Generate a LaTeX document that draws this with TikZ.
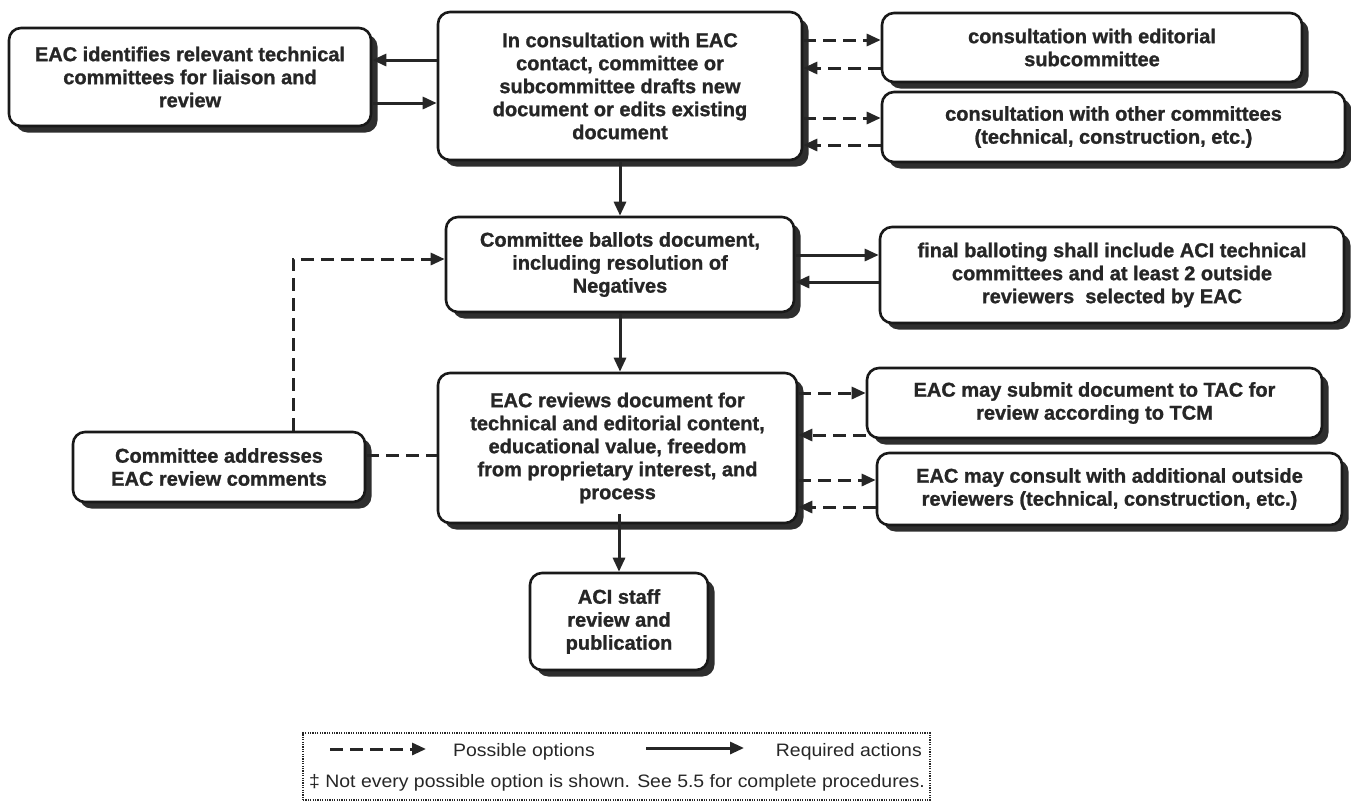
\documentclass[tikz,border=0pt]{standalone}
\usepackage{fontspec}
\setmainfont{Liberation Sans}[BoldFeatures={FakeBold=1.2}]
\newfontfamily\legfont{Liberation Sans}[FakeStretch=1.08]
\usetikzlibrary{arrows.meta,shadows}
\begin{document}
\begin{tikzpicture}[x=1pt,y=-1pt,
  box/.style={draw=black!90, line width=2.6pt, rounded corners=12pt, fill=white, align=center, inner sep=0pt,
    font=\fontsize{20}{23}\selectfont\bfseries, text=black!85,
    drop shadow={shadow xshift=6.5pt, shadow yshift=-6.5pt, fill=black!82, opacity=1}},
  req/.style={line width=3pt, draw=black!85, -{Triangle[length=14pt,width=12pt]}},
  opt/.style={line width=3pt, draw=black!85, dash pattern=on 13pt off 7pt, -{Triangle[length=14pt,width=12pt]}},
  optline/.style={line width=3pt, draw=black!85, dash pattern=on 13pt off 7pt},
  legbox/.style={draw=black!85, line width=2pt, dash pattern=on 1.2pt off 1.2pt, inner sep=0pt},
  legtext/.style={font=\legfont\fontsize{18}{21}\selectfont, text=black!85, inner sep=0pt},
]
\useasboundingbox (0,0) rectangle (1351,804);

% boxes
\node[box, minimum width=362pt, minimum height=98pt] (lt) at (190,77)
  {EAC identifies relevant technical\\committees for liaison and\\review};
\node[box, minimum width=364pt, minimum height=148pt] (draft) at (620,86)
  {In consultation with EAC\\contact, committee or\\subcommittee drafts new\\document or edits existing\\document};
\node[box, minimum width=420pt, minimum height=69pt] (edit) at (1092,47.5)
  {consultation with editorial\\subcommittee};
\node[box, minimum width=463pt, minimum height=70pt] (other) at (1113.5,127)
  {consultation with other committees\\(technical, construction, etc.)};
\node[box, minimum width=348pt, minimum height=95pt] (ballot) at (620,264.5)
  {Committee ballots document,\\including resolution of\\Negatives};
\node[box, minimum width=464pt, minimum height=96pt] (final) at (1112,275)
  {final balloting shall include ACI technical\\committees and at least 2 outside\\reviewers\ \ selected by EAC};
\node[box, minimum width=359pt, minimum height=150pt] (rev) at (617.5,448)
  {EAC reviews document for\\technical and editorial content,\\educational value, freedom\\from proprietary interest, and\\process};
\node[box, minimum width=455pt, minimum height=70pt] (tac) at (1094.5,403)
  {EAC may submit document to TAC for\\review according to TCM};
\node[box, minimum width=465pt, minimum height=72pt] (consult) at (1109.5,489)
  {EAC may consult with additional outside\\reviewers (technical, construction, etc.)};
\node[box, minimum width=292pt, minimum height=70pt] (addr) at (219,467)
  {Committee addresses\\EAC review comments};
\node[box, minimum width=178pt, minimum height=97pt] (aci) at (619,621.5)
  {ACI staff\\review and\\publication};

% connectors
\draw[req] (draft.west |- 0,60) -- (lt.east |- 0,60);
\draw[req] (lt.east |- 0,103) -- (draft.west |- 0,103);
\draw[opt] (draft.east |- 0,40) -- (edit.west |- 0,40);
\draw[opt] (edit.west |- 0,68) -- (draft.east |- 0,68);
\draw[opt] (draft.east |- 0,118) -- (other.west |- 0,118);
\draw[opt] (other.west |- 0,145) -- (draft.east |- 0,145);
\draw[req] (draft.south) -- (draft.south |- ballot.north);
\draw[req] (ballot.east |- 0,255) -- (final.west |- 0,255);
\draw[req] (final.west |- 0,282) -- (ballot.east |- 0,282);
\draw[req] (ballot.south) -- (ballot.south |- rev.north);
\draw[opt] (rev.east |- 0,393) -- (tac.west |- 0,393);
\draw[opt] (tac.west |- 0,435) -- (rev.east |- 0,435);
\draw[opt] (rev.east |- 0,480) -- (consult.west |- 0,480);
\draw[opt] (consult.west |- 0,507) -- (rev.east |- 0,507);
\draw[optline] (addr.east |- 0,455) -- (rev.west |- 0,455);
\draw[opt] ([xshift=74pt]addr.north) |- (ballot.west |- 0,259);
\draw[req] ([yshift=10pt]rev.south -| aci.north) -- (aci.north);

% legend
\node[legbox, minimum width=627pt, minimum height=67pt] (leg) at (616.5,766.5) {};
\coordinate (d1) at (330,749);
\coordinate (d2) at (426,749);
\draw[opt] (d1) -- (d2);
\node[legtext, anchor=west] (po) at (453,752) {Possible options};
\coordinate (s1) at (646,748);
\coordinate (s2) at (744,748);
\draw[req] (s1) -- (s2);
\node[legtext, anchor=east] (ra) at (922,752) {Required actions};
\node[legtext, anchor=west] (note) at (309,783) {‡ Not every possible option is shown. See 5.5 for complete procedures.};
\end{tikzpicture}
\end{document}
